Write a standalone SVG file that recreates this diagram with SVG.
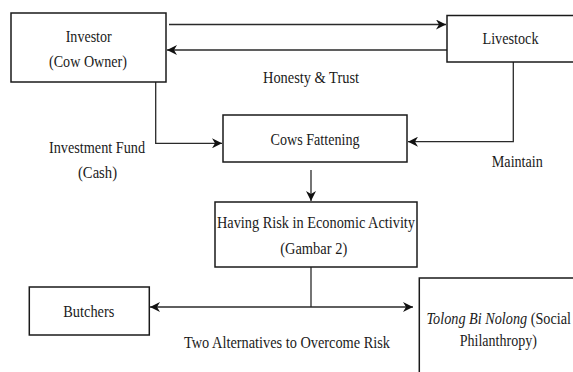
<svg xmlns="http://www.w3.org/2000/svg" width="573" height="372" viewBox="0 0 573 372">
<style>
.box{fill:#fff;stroke:#1a1a1a;stroke-width:1.5}
.ln{fill:none;stroke:#2a2a2a;stroke-width:1.3}
text{font-family:'Liberation Serif','DejaVu Serif',serif;font-size:16px;fill:#1a1a1a;text-anchor:middle}
</style>
<defs>
<marker id="ah" viewBox="0 0 10 10" refX="10" refY="5" markerWidth="10" markerHeight="10" markerUnits="userSpaceOnUse" orient="auto-start-reverse">
<path d="M0,0 L10,5 L0,10 L3,5 z" fill="#111"/>
</marker>
</defs>
<rect width="573" height="372" fill="#fff"/>
<g id="connectors">
<line class="ln" x1="169" y1="24.5" x2="446" y2="24.5" marker-end="url(#ah)"/>
<line class="ln" x1="447" y1="50" x2="167" y2="50" marker-end="url(#ah)"/>
<polyline class="ln" points="155.7,82 155.7,143.3 222,143.3" marker-end="url(#ah)"/>
<polyline class="ln" points="513.3,62 513.3,141.7 408,141.7" marker-end="url(#ah)"/>
<line class="ln" x1="311" y1="170" x2="311" y2="201" marker-end="url(#ah)"/>
<line class="ln" x1="311" y1="267" x2="311" y2="307"/>
<line class="ln" x1="150" y1="307" x2="413" y2="307" marker-start="url(#ah)" marker-end="url(#ah)"/>
</g>
<g id="labels">
<text x="311" y="83" textLength="96" lengthAdjust="spacingAndGlyphs">Honesty &amp; Trust</text>
<text x="97" y="153" textLength="96" lengthAdjust="spacingAndGlyphs">Investment Fund</text>
<text x="97.5" y="178" textLength="39" lengthAdjust="spacingAndGlyphs">(Cash)</text>
<text x="517.3" y="167" textLength="51" lengthAdjust="spacingAndGlyphs">Maintain</text>
<text x="287" y="348" textLength="206" lengthAdjust="spacingAndGlyphs">Two Alternatives to Overcome Risk</text>
</g>
<g id="investor">
<rect class="box" x="11" y="13" width="155" height="69"/>
<text x="88.7" y="42" textLength="46" lengthAdjust="spacingAndGlyphs">Investor</text>
<text x="88" y="67" textLength="78" lengthAdjust="spacingAndGlyphs">(Cow Owner)</text>
</g>
<g id="livestock">
<rect class="box" x="447" y="15.5" width="140" height="46.5"/>
<text x="510.5" y="44" textLength="56" lengthAdjust="spacingAndGlyphs">Livestock</text>
</g>
<g id="cows-fattening">
<rect class="box" x="223" y="115" width="184" height="47"/>
<text x="315" y="144.5" textLength="89" lengthAdjust="spacingAndGlyphs">Cows Fattening</text>
</g>
<g id="having-risk">
<rect class="box" x="215" y="202" width="202" height="65"/>
<text x="316" y="228" textLength="198" lengthAdjust="spacingAndGlyphs">Having Risk in Economic Activity</text>
<text x="313.7" y="254" textLength="67" lengthAdjust="spacingAndGlyphs">(Gambar 2)</text>
</g>
<g id="butchers">
<rect class="box" x="29.3" y="287" width="120" height="48"/>
<text x="88.8" y="317" textLength="51" lengthAdjust="spacingAndGlyphs">Butchers</text>
</g>
<g id="tolong">
<rect class="box" x="419.3" y="278" width="170" height="110"/>
<text transform="translate(426.5,324) scale(0.89,1)" x="0" y="0" style="text-anchor:start"><tspan font-style="italic">Tolong Bi Nolong</tspan> (Social</text>
<text x="498.3" y="346" textLength="77" lengthAdjust="spacingAndGlyphs">Philanthropy)</text>
</g>
</svg>
